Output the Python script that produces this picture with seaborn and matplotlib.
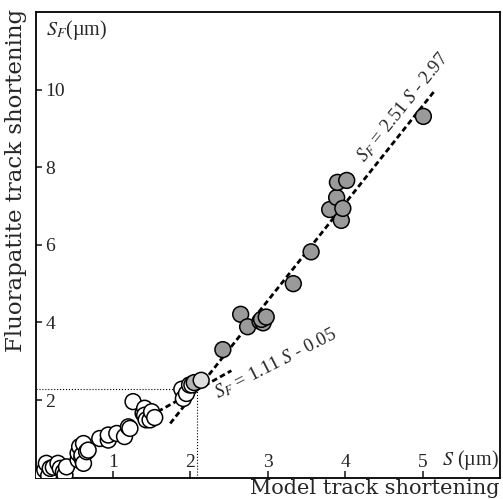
import matplotlib
matplotlib.use("Agg")
import matplotlib.pyplot as plt
import numpy as np
import pandas as pd
import seaborn as sns

# open circles (S < ~2.1 um)
OPEN_S = [0.00, 0.12, 0.14, 0.17, 0.19, 0.23, 0.29, 0.32, 0.36, 0.38, 0.40,
          0.55, 0.55, 0.57, 0.60, 0.60, 0.62, 0.62, 0.66, 0.68,
          0.83, 0.94, 0.94, 1.05, 1.15, 1.20, 1.22, 1.26, 1.39, 1.41, 1.41,
          1.43, 1.48, 1.50, 1.54, 1.89, 1.91, 1.95, 1.99, 2.02]
OPEN_SF = [0.01, 0.20, 0.37, 0.05, 0.24, 0.27, 0.37, 0.24, 0.15, 0.07, 0.28,
           0.46, 0.63, 0.80, 0.50, 0.58, 0.88, 0.37, 0.67, 0.71,
           1.01, 0.97, 1.10, 1.14, 1.06, 1.31, 1.27, 1.96, 1.66, 1.79, 1.61,
           1.49, 1.49, 1.70, 1.55, 2.28, 2.04, 2.17, 2.39, 2.39]

# transition points
MID_S = [2.05]
MID_SF = [2.45]
LIGHT_S = [2.14]
LIGHT_SF = [2.51]

# filled circles
FILLED_S = [2.42, 2.65, 2.74, 2.90, 2.94, 2.92, 2.98, 3.33, 3.56,
            3.80, 3.89, 3.90, 3.95, 3.97, 4.02, 5.01]
FILLED_SF = [3.30, 4.21, 3.89, 4.03, 3.99, 4.08, 4.14, 5.00, 5.82,
             6.91, 7.22, 7.61, 6.63, 6.94, 7.66, 9.31]

# linear fits: slope, intercept, x-range
FIT_LOW = (1.11, -0.05, 1.58, 2.53)
FIT_HIGH = (2.51, -2.97, 1.74, 5.15)
CROSS = (2.08, 2.28)

X_TICKS = [1, 2, 3, 4, 5]
Y_TICKS = [2, 4, 6, 8, 10]


def setup_style() -> None:
    sns.set_theme(style="white")
    plt.rcParams.update(
        {
            "font.family": ["Liberation Serif", "DejaVu Serif"],
            "mathtext.fontset": "stix",
            "axes.edgecolor": "black",
            "axes.linewidth": 1.3,
        }
    )


def main() -> None:
    setup_style()
    points = pd.concat(
        [
            pd.DataFrame({"S": OPEN_S, "SF": OPEN_SF, "group": "open"}),
            pd.DataFrame({"S": MID_S, "SF": MID_SF, "group": "mid"}),
            pd.DataFrame({"S": LIGHT_S, "SF": LIGHT_SF, "group": "light"}),
            pd.DataFrame({"S": FILLED_S, "SF": FILLED_SF, "group": "filled"}),
        ],
        ignore_index=True,
    )
    palette = {"open": "white", "mid": "#b4b4b4", "light": "#dedede", "filled": "#9a9a9a"}

    fig = plt.figure(figsize=(5.03, 4.99), dpi=100)
    ax = fig.add_axes([35.5 / 503, 21.3 / 499, 464.5 / 503, 465.7 / 499])

    # guide lines
    ax.plot([0, CROSS[0]], [CROSS[1], CROSS[1]], ls=":", lw=0.8, color="black")
    ax.plot([CROSS[0], CROSS[0]], [0, CROSS[1]], ls=":", lw=0.8, color="black")

    for slope, icpt, x0, x1 in (FIT_LOW, FIT_HIGH):
        xs = np.array([x0, x1])
        sns.lineplot(x=xs, y=slope * xs + icpt, color="black", lw=2.0,
                     dashes=False, ax=ax, zorder=2).lines[-1].set_dashes((2.0, 1.2))

    sns.scatterplot(data=points, x="S", y="SF", hue="group", palette=palette,
                    s=130, edgecolor="black", linewidth=1.1, legend=False,
                    ax=ax, zorder=3)

    ax.set_xlim(0, 6)
    ax.set_ylim(0, 12)
    ax.set_xticks(X_TICKS)
    ax.set_yticks(Y_TICKS)
    ax.tick_params(axis="x", direction="in", length=5, width=1.2, pad=-5,
                   labelsize=14, bottom=True)
    ax.tick_params(axis="y", direction="in", length=4, width=1.2, pad=-7,
                   labelsize=14, left=True)
    for lbl in ax.get_xticklabels():
        lbl.set_verticalalignment("bottom")
    for lbl in ax.get_yticklabels():
        lbl.set_horizontalalignment("left")
    ax.set_xlabel("")
    ax.set_ylabel("")

    ax.text(-0.041, 0.638, "Fluorapatite track shortening", rotation=90,
            transform=ax.transAxes, ha="center", va="center", fontsize=16.5,
            family=["DejaVu Serif"])
    ax.text(1.0, -0.024, "Model track shortening", transform=ax.transAxes,
            ha="right", va="center", fontsize=15, family=["DejaVu Serif"])
    ax.text(0.022, 0.962, r"$S_F$(µm)", transform=ax.transAxes,
            ha="left", va="center", fontsize=14.5)
    ax.text(5.25, 0.013, r"$S$ (µm)", transform=ax.get_xaxis_transform(),
            ha="left", va="bottom", fontsize=14.5)

    ax.text(4.74, 9.54, r"$S_F$ = 2.51 $S$ - 2.97", rotation=51,
            rotation_mode="anchor", ha="center", va="center", fontsize=13.5)
    ax.text(3.10, 2.95, r"$S_F$ = 1.11 $S$ - 0.05", rotation=27,
            rotation_mode="anchor", ha="center", va="center", fontsize=13.5)

    fig.savefig("out.png", dpi=100)
    plt.close(fig)


if __name__ == "__main__":
    main()
